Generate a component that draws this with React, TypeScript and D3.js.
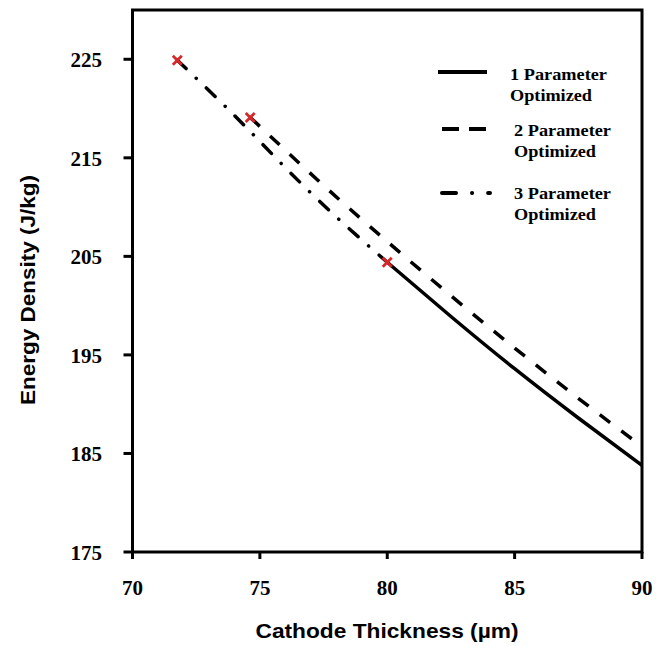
import React from "react";
import * as d3 from "d3";

// Cathode thickness (µm) vs. energy density (J/kg)
const onePx = [80, 82.5, 85, 87.5, 90];
const onePy = [204.4, 198.9, 193.6, 188.6, 183.8];

const twoPx = [74.62, 77.5, 80, 82.5, 85, 87.5, 90];
const twoPy = [219.1, 212.2, 206.5, 201.0, 195.7, 190.6, 185.7];

const threePx = [71.76, 74, 76, 78, 80];
const threePy = [224.9, 219.3, 214.0, 209.0, 204.4];

// Optimum points for each case
const optX = [71.76, 74.62, 80];
const optY = [224.9, 219.1, 204.4];

const xTicks = [70, 75, 80, 85, 90];
const yTicks = [175, 185, 195, 205, 215, 225];

const legendLabels = ["1 Parameter", "2 Parameter", "3 Parameter"];

const W = 665;
const H = 646;
const left = 132.5;
const right = 642;
const top = 10;
const bottom = 552;

const x = d3.scaleLinear().domain([70, 90]).range([left, right]);
const y = d3.scaleLinear().domain([175, 230]).range([bottom, top]);

const line = d3
  .line<[number, number]>()
  .x((d) => x(d[0]))
  .y((d) => y(d[1]))
  .curve(d3.curveNatural);

const zip = (a: number[], b: number[]) => a.map((v, i) => [v, b[i]] as [number, number]);

const serif = "'Liberation Serif', 'Times New Roman', serif";
const sans = "'Liberation Sans', Arial, sans-serif";

const DASH = "13 14";
const DASHDOT = "12 14 0.1 14";

export default function App() {
  const legendItems = [
    { y: 72, tx: 510, ty: 80 },
    { y: 129, tx: 514, ty: 136 },
    { y: 193, tx: 514, ty: 199 },
  ];
  return (
    <svg
      width={W}
      height={H}
      style={{ position: "absolute", left: 0, top: 0, background: "#fff" }}
    >
      {/* series */}
      <path d={line(zip(threePx, threePy)) || ""} fill="none" stroke="#000" strokeWidth={3.5} strokeDasharray={DASHDOT} strokeLinecap="round" />
      <path d={line(zip(twoPx, twoPy)) || ""} fill="none" stroke="#000" strokeWidth={3.5} strokeDasharray={DASH} />
      <path d={line(zip(onePx, onePy)) || ""} fill="none" stroke="#000" strokeWidth={3.5} />

      {/* optimum markers */}
      {optX.map((v, i) => {
        const cx = x(v);
        const cy = y(optY[i]);
        const s = 4.5;
        return (
          <g key={i} stroke="#d6282b" strokeWidth={2.8}>
            <line x1={cx - s} y1={cy - s} x2={cx + s} y2={cy + s} />
            <line x1={cx - s} y1={cy + s} x2={cx + s} y2={cy - s} />
          </g>
        );
      })}

      {/* frame */}
      <rect x={left} y={top} width={right - left} height={bottom - top} fill="none" stroke="#000" strokeWidth={3} />

      {/* x axis */}
      {xTicks.map((t) => (
        <g key={t}>
          <line x1={x(t)} x2={x(t)} y1={bottom} y2={bottom + 7} stroke="#000" strokeWidth={3} />
          <text x={x(t)} y={595} textAnchor="middle" fontFamily={serif} fontWeight="bold" fontSize={21}>
            {t}
          </text>
        </g>
      ))}

      {/* y axis */}
      {yTicks.map((t) => (
        <g key={t}>
          <line x1={left - 9} x2={left} y1={y(t)} y2={y(t)} stroke="#000" strokeWidth={3} />
          <text x={102} y={y(t) + 8} textAnchor="end" fontFamily={serif} fontWeight="bold" fontSize={21}>
            {t}
          </text>
        </g>
      ))}

      {/* axis titles */}
      <text x={387} y={638} textAnchor="middle" fontFamily={sans} fontWeight="bold" fontSize={21} textLength={263} lengthAdjust="spacingAndGlyphs">
        Cathode Thickness (µm)
      </text>
      <text transform={`translate(35,290) rotate(-90)`} textAnchor="middle" fontFamily={sans} fontWeight="bold" fontSize={21} textLength={230} lengthAdjust="spacingAndGlyphs">
        Energy Density (J/kg)
      </text>

      {/* legend */}
      {legendItems.map((it, i) => (
        <g key={i}>
          <line
            x1={i === 0 ? 438 : 442}
            x2={i === 0 ? 487 : 490}
            y1={it.y}
            y2={it.y}
            stroke="#000"
            strokeWidth={4}
            strokeDasharray={i === 1 ? "17 10" : i === 2 ? "14 16 0.1 16" : undefined}
            strokeLinecap={i === 2 ? "round" : "butt"}
          />
          <text x={it.tx} y={it.ty} fontFamily={serif} fontWeight="bold" fontSize={16.5} textLength={97} lengthAdjust="spacingAndGlyphs">
            {legendLabels[i]}
          </text>
          <text x={it.tx} y={it.ty + 21} fontFamily={serif} fontWeight="bold" fontSize={16.5} textLength={82} lengthAdjust="spacingAndGlyphs">
            Optimized
          </text>
        </g>
      ))}
    </svg>
  );
}
